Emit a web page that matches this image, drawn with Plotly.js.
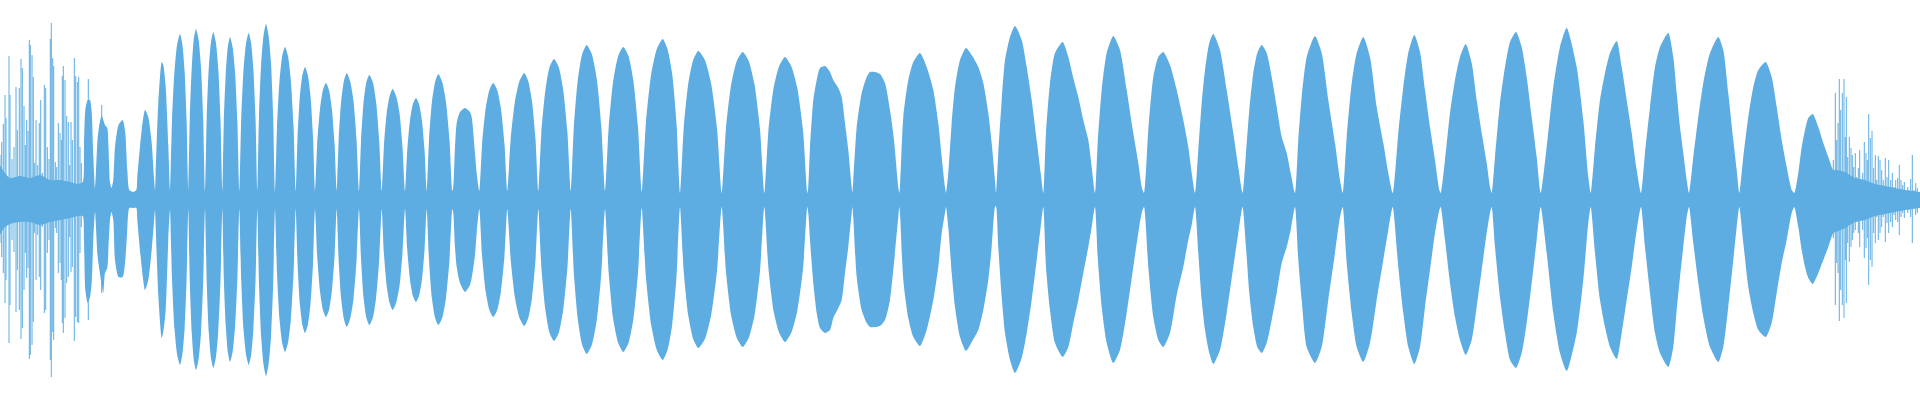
<!DOCTYPE html>
<html>
<head>
<meta charset="utf-8">
<script src="https://cdn.plot.ly/plotly-3.0.1.min.js"></script>
<style>html,body{margin:0;padding:0;background:#fff;}#chart{width:1920px;height:400px;}</style>
</head>
<body>
<div id="chart"></div>
<script>
// Envelope of the waveform (sample position, upper amplitude, lower amplitude)
const envX = [
  0,4,10,20,30,40,50,60,70,78,82.7,
  84,85.3,87.7,90,91.7,93.3,95,
  97.5,99,101.7,103.3,105,107.3,108.5,110,
  111.5,113.3,115,118.5,122.7,125.3,127.3,129.3,133,136.3,
  137.3,141.7,145,148.3,151.7,154,155,
  155.7,158.3,161.7,163.3,165.7,168.3,170,
  172,174.5,177.2,180,182.3,184.6,186.6,188.3,
  189.8,191.8,193.8,196,198.5,201,203.2,205,
  206.7,208.7,211,213.3,215.8,218.3,220.5,222.3,
  223.8,225.8,227.8,230,232.6,235.1,237.4,239.3,
  241.2,243.5,246.1,248.7,251.1,253.4,255.6,257.3,
  259,261.2,263.6,266,268.5,271,273.2,275,
  277,279.5,282.2,285,288,290.9,293.6,295.7,
  297.6,299.9,302.4,305,307.8,310.5,313,315,
  317.2,320,322.9,326,329,331.9,334.6,336.7,
  338.7,341.2,343.9,346.7,350.1,353.5,356.5,359,
  361.1,363.6,366.4,369.3,372.8,376.1,379.2,381.7,
  383.9,386.7,389.6,392.7,396.1,399.5,402.5,405,
  407.2,410,412.9,416,419,421.9,424.6,426.7,
  429,431.9,435.1,438.3,442.2,446,449.5,452.3,
  453.3,455,456.7,460,465,470,471.7,475,476.7,479.3,
  482.1,485.6,489.4,493.3,497.2,501,504.5,507.3,
  510.7,515,519.5,524.3,528.2,532,535.5,538.3,
  541.4,545.4,549.6,554,558.7,563.2,567.4,570.7,
  573.9,577.9,582.2,586.7,591.8,596.8,601.3,605,
  608.7,613.2,618.2,623.3,628.5,633.4,638,641.7,
  645.9,651.2,656.8,662.7,667.5,672.2,676.5,680,
  683.7,688.2,693.2,698.3,704.9,711.2,717,721.7,
  725.9,731.1,736.8,742.7,748.7,754.6,760,764.3,
  768.4,773.6,779.2,785,791.2,797.3,803.1,807.3,
  808.3,810,813.3,816.7,820,825,830,833.3,838.3,841.7,845,848.3,851.7,852.3,
  853.3,856.7,861.7,866.7,870,875,880,885,890,894,898.3,899.3,
  900,903.3,908.3,913.3,920,926.7,933.3,938.3,941.7,945,946,
  948.3,951.7,955,960,966,971.7,978.3,983.3,988.3,991.7,995,996,
  998.3,1001.7,1005,1010,1015,1021.7,1026.7,1031.7,1036.7,1040.7,1043.3,
  1046,1050,1055,1062.7,1068.3,1073.3,1078.3,1083.3,1088.3,1091.7,1095,
  1097.7,1101.7,1106.7,1113.3,1120,1126.7,1133.3,1138.3,1141.7,1144,
  1148.3,1153.3,1158.3,1163.3,1170,1176.7,1183.3,1188.3,1191.7,1195,
  1198.3,1201.7,1205,1209.3,1213.3,1220,1226.7,1233.3,1238.3,1241.7,1242.7,
  1246,1249.3,1253.3,1257.3,1261.7,1266.7,1271.7,1276.7,1281.7,1286.7,1290.7,1295,
  1298.3,1301.7,1306.7,1315,1321.7,1328.3,1335,1340,1342.7,
  1346.7,1351.7,1356.7,1363.3,1370,1376.7,1383.3,1388.3,1392.7,
  1398.3,1403.3,1408.3,1414.3,1420,1425,1430,1435,1439.3,1440.7,
  1445,1450,1455,1460,1465.7,1471.7,1476.7,1481.7,1486.7,1490,1491.7,
  1495,1500,1505,1510,1516,1521.7,1526.7,1531.7,1536.7,1540.7,
  1546.7,1553.3,1560,1566.7,1576.7,1583.3,1588.3,1590.7,
  1595,1600,1605,1610,1616.7,1621.7,1626.7,1631.7,1636.7,1641,
  1645,1650,1655,1660,1668.3,1673.3,1676.7,1680,1683.3,1686.7,1689,
  1693.3,1698.3,1703.3,1710,1718.3,1723.3,1728.3,1733.3,1736.7,1739.3,
  1743.3,1748.3,1753.3,1758.3,1765.7,1771.7,1776.7,1781.7,1786.7,1791.7,1794.3,
  1798.3,1801.7,1805,1808.3,1812.7,1818.3,1823.3,1828.3,1833.3,
  1836,1845,1855,1865,1875,1885,1895,1905,1920
];
const envTop = [
  35,28,22,24,22,25,20,20,18,16,18,
  55,90,100,100,88,45,12,
  60,73,85,80,75,72,53,18,
  12,20,53,75,80,67,30,10,8,10,
  23,70,90,83,57,23,10,
  27,97,138,135,113,55,10,
  80,129,156,166,156,129,80,9,
  82,133,161,171,161,133,82,9,
  81,131,158,168,158,131,81,9,
  78,127,153,163,153,127,78,9,
  80,130,157,167,157,130,80,9,
  84,137,165,176,165,137,84,9,
  73,119,144,153,144,119,73,9,
  64,104,125,133,125,104,64,9,
  56,91,110,117,110,91,56,9,
  61,99,119,127,119,99,61,9,
  60,98,118,125,118,98,60,9,
  53,87,104,111,104,87,53,9,
  49,80,96,102,96,80,49,9,
  60,98,118,126,118,98,60,9,
  13,53,77,88,92,88,83,47,27,9,
  56,91,110,117,110,91,56,9,
  61,99,119,127,119,99,61,9,
  68,110,133,141,133,110,68,9,
  74,121,146,155,146,121,74,9,
  73,119,144,153,144,119,73,8,
  77,126,151,161,151,126,77,7,
  72,116,140,149,140,116,72,7,
  71,115,139,148,139,115,71,7,
  69,112,134,143,134,112,69,7,
  13,53,100,120,132,134,128,120,112,103,77,50,13,7,
  20,73,107,123,128,128,126,117,90,60,13,7,
  13,83,120,138,147,133,110,77,43,13,7,
  27,77,113,140,152,145,133,117,87,57,20,7,
  47,100,140,163,174,160,133,100,60,27,7,
  67,117,147,158,143,122,103,80,60,33,7,
  57,110,147,164,150,110,67,37,13,7,
  70,123,143,148,135,110,80,53,27,7,
  50,97,130,157,166,150,110,67,33,10,7,
  47,90,127,147,155,147,123,93,63,47,27,7,
  60,103,143,164,147,100,57,20,7,
  63,117,147,163,143,93,57,27,7,
  67,113,147,165,148,110,73,40,10,7,
  40,87,120,143,156,137,100,67,37,13,7,
  43,97,133,158,168,153,123,83,43,7,
  53,113,153,172,133,80,23,7,
  53,100,127,147,159,133,100,67,30,7,
  47,93,133,153,167,143,107,73,47,20,7,
  43,83,117,147,163,150,107,60,30,7,
  43,83,113,130,138,123,93,60,33,10,7,
  27,53,70,82,86,73,57,43,30,
  30,28,22,20,16,14,12,10,8
];
const envBottom = [
  35,28,24,22,22,25,22,20,18,16,16,
  40,90,103,97,83,40,12,
  55,67,85,93,73,68,47,20,
  12,20,60,77,77,60,30,8,8,8,
  20,67,90,80,50,22,10,
  27,95,138,132,110,40,10,
  79,129,155,165,155,129,79,9,
  82,133,160,170,160,133,82,9,
  81,131,158,168,158,131,81,9,
  78,126,152,162,152,126,78,9,
  79,129,155,165,155,129,79,9,
  84,137,165,176,165,137,84,9,
  73,119,143,152,143,119,73,9,
  64,104,125,133,125,104,64,9,
  56,91,110,117,110,91,56,9,
  61,99,119,127,119,99,61,9,
  60,98,118,125,118,98,60,9,
  53,86,103,110,103,86,53,9,
  49,80,96,102,96,80,49,9,
  60,98,118,125,118,98,60,9,
  13,47,67,83,92,85,78,55,33,9,
  56,91,110,117,110,91,56,9,
  60,98,118,126,118,98,60,9,
  68,110,133,141,133,110,68,9,
  74,120,145,154,145,120,74,9,
  73,119,143,152,143,119,73,8,
  77,125,150,160,150,125,77,7,
  71,115,139,148,139,115,71,7,
  71,115,138,147,138,115,71,7,
  68,111,133,142,133,111,68,7,
  13,40,83,113,128,133,130,118,108,100,73,47,13,7,
  18,77,110,123,127,127,126,120,100,63,17,7,
  13,80,118,137,146,130,100,67,33,13,7,
  27,73,107,137,151,142,130,110,80,47,7,6,
  47,97,133,160,173,158,133,100,60,27,7,
  67,110,143,157,147,123,100,73,47,27,7,
  57,107,143,163,150,113,67,33,13,7,
  67,117,140,147,133,95,67,40,25,7,
  53,100,130,153,164,150,113,67,33,10,7,
  47,93,127,147,153,143,120,93,63,47,30,7,
  60,100,147,163,147,100,53,17,7,
  63,113,147,162,143,100,60,30,7,
  67,113,147,164,147,107,70,33,10,7,
  40,83,117,140,155,140,107,70,33,13,7,
  47,97,133,160,168,153,123,83,40,7,
  53,113,153,171,133,80,23,7,
  53,100,127,147,159,133,100,67,30,7,
  47,93,133,153,167,147,110,77,47,17,7,
  43,83,117,147,162,147,107,60,27,7,
  43,87,113,130,137,123,93,63,40,13,7,
  27,50,67,78,84,73,60,47,33,
  32,28,22,20,16,14,12,10,8
];

// Isolated transient peaks (onset and release noise)
const spikeX = [
  0,1.7,3.3,5,6,9,10,12,14,16,17.3,19.3,21,22.3,24,25.3,26.7,28,29.3,30.3,
  32,33.3,34.7,36,37.7,39.3,40.7,42.3,44.3,45.7,47.3,49,50.3,51.3,52.7,53.7,
  55.3,56.7,58.3,60,61.3,62.3,63.3,65,66.7,68.3,69.7,71,72.3,74.3,75.7,77.3,
  78.7,80,81.3,88.3,101.7,
  1833.3,1835.3,1836.7,1838,1839.3,1840.7,1842.3,1844,1845.3,1846.3,1847.7,
  1849.3,1851,1852.3,1853.7,1855.3,1856.7,1858.3,1859.7,1861,1862.7,1864.3,
  1866,1867.3,1868.7,1870.3,1872,1873.7,1875.3,1876.7,1878.3,1880,1881.7,
  1883.3,1885.3,1887,1888.7,1890.7,1892.3,1894,1895.7,1897.7,1899.3,1901,
  1902.7,1904.3,1906,1907.7,1909,1910.7,1912.3,1914,1915.7,1917.3,1919
];
const spikeTop = [
  45,58,76,105,82,144,105,41,53,113,70,112,141,132,94,55,80,69,160,155,
  145,123,37,80,35,77,100,27,115,112,53,41,161,177,142,134,
  38,33,77,67,60,124,134,120,84,78,35,78,60,142,124,118,
  123,53,37,121,95,
  40,107,60,77,121,90,107,121,63,103,43,
  63,52,45,33,47,23,32,50,15,27,58,
  47,40,86,62,69,32,45,20,44,40,30,
  20,42,23,40,20,27,13,20,22,35,20,
  15,18,7,13,10,21,45,10,17,12,8
];
const spikeBottom = [
  43,57,73,103,80,143,105,40,52,112,70,110,139,128,90,53,78,68,159,155,
  145,122,33,80,35,77,90,27,113,110,53,40,160,177,132,140,
  28,33,73,63,80,123,133,118,83,77,37,72,67,141,117,122,
  123,53,27,120,93,
  38,105,63,73,121,90,105,118,60,103,43,
  62,47,40,33,30,22,33,47,15,30,58,
  48,38,85,60,67,33,43,17,40,33,27,
  17,42,23,33,22,27,15,20,22,35,17,
  13,18,8,13,10,17,43,8,15,13,7
];

const COLOR = '#5DADE2';

const traces = [
  {
    x: envX,
    y: envBottom.map(v => -v),
    mode: 'lines',
    line: {width: 0, color: COLOR, shape: 'spline', smoothing: 0.6},
    hoverinfo: 'skip'
  },
  {
    x: envX,
    y: envTop,
    mode: 'lines',
    fill: 'tonexty',
    fillcolor: COLOR,
    line: {width: 0, color: COLOR, shape: 'spline', smoothing: 0.6},
    hoverinfo: 'skip'
  },
  {
    type: 'bar',
    x: spikeX,
    y: spikeX.map((_, i) => spikeTop[i] + spikeBottom[i]),
    base: spikeBottom.map(v => -v),
    width: 1,
    marker: {color: COLOR, line: {width: 0}},
    hoverinfo: 'skip'
  }
];

const layout = {
  width: 1920,
  height: 400,
  margin: {l: 0, r: 0, t: 0, b: 0, pad: 0},
  paper_bgcolor: '#ffffff',
  plot_bgcolor: '#ffffff',
  showlegend: false,
  xaxis: {range: [0, 1920], visible: false, fixedrange: true},
  yaxis: {range: [-200, 200], visible: false, fixedrange: true}
};

Plotly.newPlot('chart', traces, layout, {displayModeBar: false, staticPlot: true});
</script>
</body>
</html>
